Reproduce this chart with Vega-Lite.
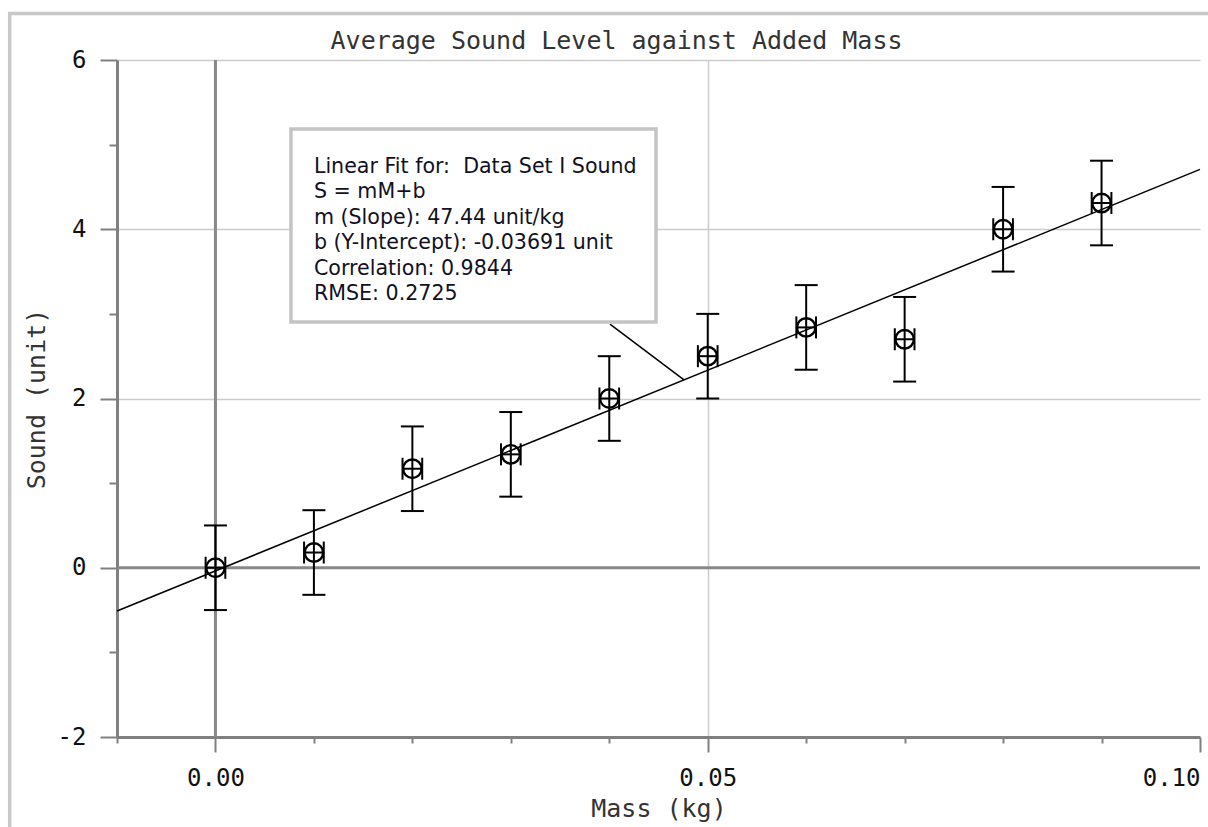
{
  "$schema": "https://vega.github.io/schema/vega-lite/v6.json",
  "width": 1083,
  "height": 677,
  "autosize": "none",
  "padding": {"left": 117, "top": 60, "right": 8, "bottom": 90},
  "background": "white",
  "config": {"view": {"stroke": null}},
  "title": {
    "text": "Average Sound Level against Added Mass",
    "font": "DejaVu Sans Mono",
    "fontSize": 25,
    "fontWeight": "normal",
    "color": "#333333",
    "anchor": "middle",
    "frame": "group",
    "dx": -42,
    "offset": -42
  },
  "data": {"values": [{}]},
  "datasets": {
    "points": [
      {"mass": 0.00, "sound": 0.00, "lo": -0.50, "hi": 0.50, "mlo": -0.001, "mhi": 0.001},
      {"mass": 0.01, "sound": 0.18, "lo": -0.32, "hi": 0.68, "mlo": 0.009, "mhi": 0.011},
      {"mass": 0.02, "sound": 1.17, "lo": 0.67, "hi": 1.67, "mlo": 0.019, "mhi": 0.021},
      {"mass": 0.03, "sound": 1.34, "lo": 0.84, "hi": 1.84, "mlo": 0.029, "mhi": 0.031},
      {"mass": 0.04, "sound": 2.00, "lo": 1.50, "hi": 2.50, "mlo": 0.039, "mhi": 0.041},
      {"mass": 0.05, "sound": 2.50, "lo": 2.00, "hi": 3.00, "mlo": 0.049, "mhi": 0.051},
      {"mass": 0.06, "sound": 2.84, "lo": 2.34, "hi": 3.34, "mlo": 0.059, "mhi": 0.061},
      {"mass": 0.07, "sound": 2.70, "lo": 2.20, "hi": 3.20, "mlo": 0.069, "mhi": 0.071},
      {"mass": 0.08, "sound": 4.00, "lo": 3.50, "hi": 4.50, "mlo": 0.079, "mhi": 0.081},
      {"mass": 0.09, "sound": 4.31, "lo": 3.81, "hi": 4.81, "mlo": 0.089, "mhi": 0.091}
    ],
    "fit": [
      {"mass": -0.01, "sound": -0.511},
      {"mass": 0.10, "sound": 4.707}
    ],
    "note": [
      {"text": "Linear Fit for:\u00a0 Data Set I Sound\nS = mM+b\nm (Slope): 47.44 unit/kg\nb (Y-Intercept): -0.03691 unit\nCorrelation: 0.9844\nRMSE: 0.2725"}
    ]
  },
  "layer": [
    {
      "data": {"name": "fit"},
      "mark": {"type": "line", "color": "black", "strokeWidth": 1.5, "opacity": 0},
      "encoding": {
        "x": {
          "field": "mass", "type": "quantitative",
          "scale": {"domain": [-0.01, 0.10], "nice": false, "zero": false},
          "axis": {
            "title": "Mass (kg)",
            "titleFont": "DejaVu Sans Mono", "titleFontSize": 25, "titleFontWeight": "normal", "titleColor": "#333333",
            "titlePadding": 6,
            "values": [-0.01, 0, 0.01, 0.02, 0.03, 0.04, 0.05, 0.06, 0.07, 0.08, 0.09, 0.10],
            "labelExpr": "round(datum.value*100) % 5 === 0 ? format(datum.value, '.2f') : ''",
            "labelFont": "DejaVu Sans Mono", "labelFontSize": 24, "labelColor": "#111111",
            "labelPadding": 14,
            "labelFlush": true,
            "labelOverlap": false,
            "domainColor": "#808080", "domainWidth": 3,
            "tickColor": "#808080", "tickWidth": 2,
            "tickSize": {"condition": {"test": "round(datum.value*100) % 5 === 0", "value": 15}, "value": 6},
            "grid": true,
            "gridColor": "#cccccc", "gridWidth": 1.5,
            "gridOpacity": {"condition": {"test": "round(datum.value*100) === 5", "value": 1}, "value": 0}
          }
        },
        "y": {
          "field": "sound", "type": "quantitative",
          "scale": {"domain": [-2, 6], "nice": false, "zero": false},
          "axis": {
            "title": "Sound (unit)",
            "titleFont": "DejaVu Sans Mono", "titleFontSize": 25, "titleFontWeight": "normal", "titleColor": "#333333",
            "titlePadding": 8,
            "values": [-2, -1, 0, 1, 2, 3, 4, 5, 6],
            "labelExpr": "datum.value % 2 === 0 ? '' + datum.value : ''",
            "labelFont": "DejaVu Sans Mono", "labelFontSize": 24, "labelColor": "#111111",
            "labelPadding": 14,
            "labelFlush": false,
            "labelOverlap": false,
            "domainColor": "#808080", "domainWidth": 3,
            "tickColor": "#808080", "tickWidth": 2,
            "tickSize": {"condition": {"test": "datum.value % 2 === 0", "value": 17}, "value": 8},
            "grid": true,
            "gridColor": "#cccccc", "gridWidth": 1.5,
            "gridOpacity": {"condition": {"test": "datum.value > 0 && datum.value % 2 === 0", "value": 1}, "value": 0}
          }
        }
      }
    },
    {
      "mark": {"type": "rule", "color": "#888888", "strokeWidth": 3},
      "encoding": {"x": {"datum": 0, "type": "quantitative"}}
    },
    {
      "mark": {"type": "rule", "color": "#888888", "strokeWidth": 3},
      "encoding": {"y": {"datum": 0, "type": "quantitative"}}
    },
    {
      "data": {"name": "fit"},
      "mark": {"type": "line", "color": "black", "strokeWidth": 1.5},
      "encoding": {
        "x": {"field": "mass", "type": "quantitative"},
        "y": {"field": "sound", "type": "quantitative"}
      }
    },
    {
      "data": {"name": "points"},
      "mark": {"type": "rule", "color": "black", "strokeWidth": 2},
      "encoding": {
        "x": {"field": "mass", "type": "quantitative"},
        "y": {"field": "lo", "type": "quantitative"},
        "y2": {"field": "hi"}
      }
    },
    {
      "data": {"name": "points"},
      "mark": {"type": "tick", "orient": "horizontal", "color": "black", "size": 23, "thickness": 2, "opacity": 1},
      "encoding": {
        "x": {"field": "mass", "type": "quantitative"},
        "y": {"field": "lo", "type": "quantitative"}
      }
    },
    {
      "data": {"name": "points"},
      "mark": {"type": "tick", "orient": "horizontal", "color": "black", "size": 23, "thickness": 2, "opacity": 1},
      "encoding": {
        "x": {"field": "mass", "type": "quantitative"},
        "y": {"field": "hi", "type": "quantitative"}
      }
    },
    {
      "data": {"name": "points"},
      "mark": {"type": "rule", "color": "black", "strokeWidth": 2},
      "encoding": {
        "x": {"field": "mlo", "type": "quantitative"},
        "x2": {"field": "mhi"},
        "y": {"field": "sound", "type": "quantitative"}
      }
    },
    {
      "data": {"name": "points"},
      "mark": {"type": "tick", "orient": "vertical", "color": "black", "size": 22, "thickness": 2, "opacity": 1},
      "encoding": {
        "x": {"field": "mlo", "type": "quantitative"},
        "y": {"field": "sound", "type": "quantitative"}
      }
    },
    {
      "data": {"name": "points"},
      "mark": {"type": "tick", "orient": "vertical", "color": "black", "size": 22, "thickness": 2, "opacity": 1},
      "encoding": {
        "x": {"field": "mhi", "type": "quantitative"},
        "y": {"field": "sound", "type": "quantitative"}
      }
    },
    {
      "data": {"name": "points"},
      "mark": {"type": "point", "shape": "circle", "filled": false, "color": "black", "size": 340, "strokeWidth": 2.4, "opacity": 1},
      "encoding": {
        "x": {"field": "mass", "type": "quantitative"},
        "y": {"field": "sound", "type": "quantitative"}
      }
    },
    {
      "mark": {"type": "rule", "color": "black", "strokeWidth": 1.5},
      "encoding": {
        "x": {"datum": 0.04007, "type": "quantitative"},
        "y": {"datum": 2.88, "type": "quantitative"},
        "x2": {"datum": 0.04759},
        "y2": {"datum": 2.221}
      }
    },
    {
      "mark": {"type": "rect", "fill": "white", "stroke": "#c4c4c4", "strokeWidth": 3.5},
      "encoding": {
        "x": {"datum": 0.00767, "type": "quantitative"},
        "x2": {"datum": 0.04475},
        "y": {"datum": 5.185, "type": "quantitative"},
        "y2": {"datum": 2.904}
      }
    },
    {
      "data": {"name": "note"},
      "mark": {"type": "text", "font": "DejaVu Sans", "fontSize": 20.6, "color": "#111122", "align": "left", "baseline": "alphabetic", "lineBreak": "\n", "lineHeight": 25.4},
      "encoding": {
        "x": {"datum": 0.0100, "type": "quantitative"},
        "y": {"datum": 4.665, "type": "quantitative"},
        "text": {"field": "text"}
      }
    },
    {
      "mark": {"type": "rect", "fillOpacity": 0, "stroke": "#c8c8c8", "strokeWidth": 3.5, "clip": false},
      "encoding": {
        "x": {"datum": -0.0209, "type": "quantitative"},
        "x2": {"datum": 0.1025},
        "y": {"datum": 6.549, "type": "quantitative"},
        "y2": {"datum": -3.3}
      }
    }
  ]
}
